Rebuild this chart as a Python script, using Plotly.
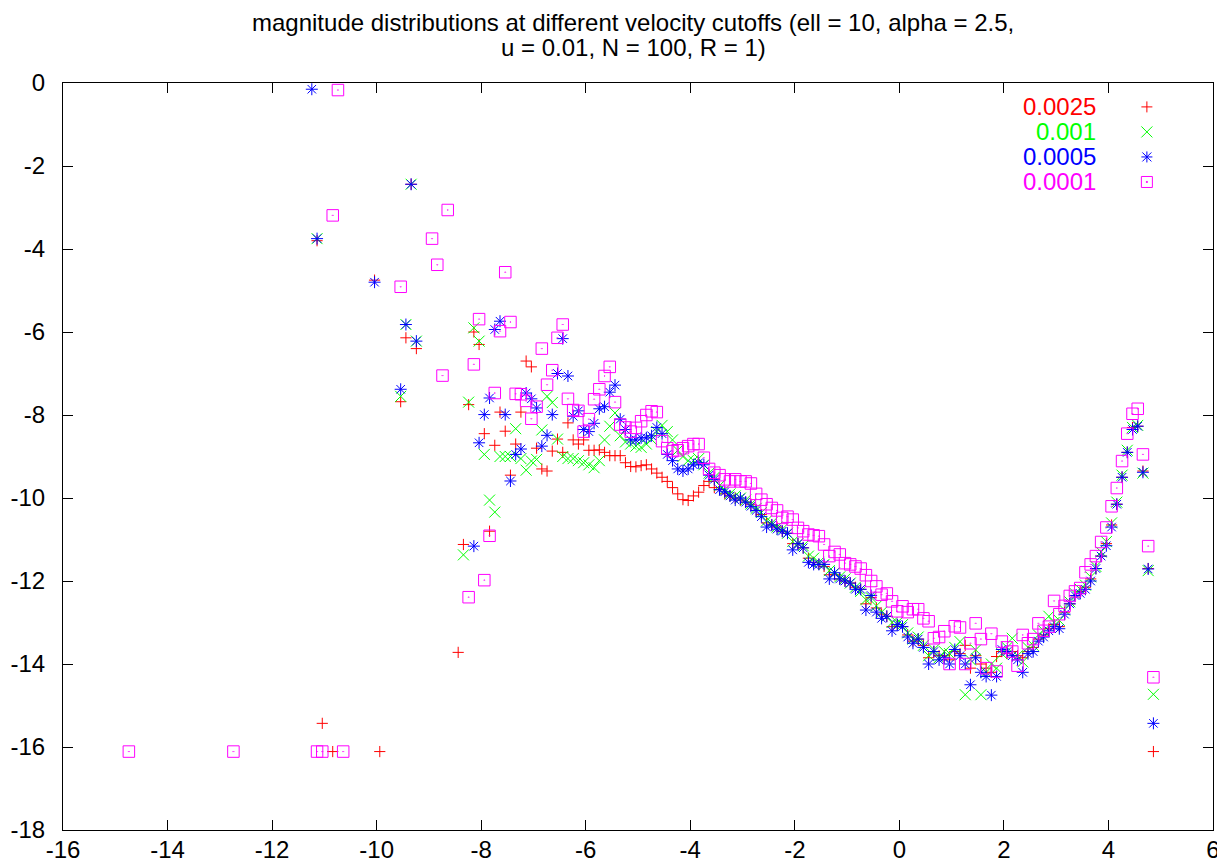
import plotly.graph_objects as go

# velocity cutoffs and their colours (gnuplot default palette)
cutoffs = ["0.0025", "0.001", "0.0005", "0.0001"]
colors = ["#ff0000", "#00ff00", "#0000ff", "#ff00ff"]
symbols = ["cross-thin", "x-thin", "asterisk", "square-open-dot"]

x_ticks = [-16, -14, -12, -10, -8, -6, -4, -2, 0, 2, 4, 6]
y_ticks = [0, -2, -4, -6, -8, -10, -12, -14, -16, -18]

# magnitude bins along the main curve (same for all cutoffs)
x_main = [-6.04, -5.94, -5.84, -5.74, -5.64, -5.54, -5.44, -5.34, -5.24, -5.14,
          -5.04, -4.94, -4.84, -4.74, -4.64, -4.54, -4.44, -4.34, -4.24, -4.14,
          -4.04, -3.94, -3.84, -3.74, -3.64, -3.54, -3.44, -3.34, -3.24, -3.14,
          -3.04, -2.94, -2.84, -2.74, -2.64, -2.54, -2.44, -2.34, -2.24, -2.14,
          -2.04, -1.94, -1.84, -1.74, -1.64, -1.54, -1.44, -1.34, -1.24, -1.14,
          -1.04, -0.94, -0.84, -0.74, -0.64, -0.54, -0.44, -0.34, -0.24, -0.14,
          -0.04, 0.06, 0.16, 0.26, 0.36, 0.46, 0.56, 0.66, 0.76, 0.86,
          0.96, 1.06, 1.16, 1.26, 1.36, 1.46, 1.56, 1.66, 1.76, 1.86,
          1.96, 2.06, 2.16, 2.26, 2.36, 2.46, 2.56, 2.66, 2.76, 2.86,
          2.96, 3.06, 3.16, 3.26, 3.36, 3.46, 3.56, 3.66, 3.76, 3.86,
          3.96, 4.06, 4.16, 4.26, 4.36, 4.46, 4.56, 4.66, 4.76, 4.86]

y_main_0025 = [-8.60, -8.85, -8.85, -8.84, -8.90, -8.98, -8.98, -8.98, -9.15, -9.24,
               -9.25, -9.22, -9.20, -9.30, -9.40, -9.50, -9.60, -9.75, -9.90, -10.04,
               -10.06, -9.95, -9.86, -9.70, -9.60, -9.75, -9.80, -9.90, -9.95, -10.00,
               -10.05, -10.10, -10.15, -10.30, -10.40, -10.60, -10.65, -10.70, -10.80, -10.85,
               -11.10, -11.10, -11.20, -11.45, -11.55, -11.60, -11.65, -11.85, -11.85, -11.95,
               -12.00, -12.05, -12.15, -12.20, -12.55, -12.40, -12.65, -12.80, -12.85, -13.10,
               -13.05, -13.10, -13.30, -13.45, -13.40, -13.55, -13.85, -13.70, -13.80, -13.80,
               -13.90, -13.70, -13.75, -13.55, -14.10, -13.80, -14.00, -14.10, -14.20, -13.82,
               -13.70, -13.75, -13.70, -13.80, -13.85, -13.70, -13.60, -13.40, -13.30, -13.15,
               -13.05, -13.10, -12.75, -12.55, -12.35, -12.25, -12.15, -11.95, -11.70, -11.40,
               -11.10, -10.65, -10.15, -9.50, -8.90, -8.30, -8.27, -9.35, -11.70, -16.11]

y_main_001 = [-9.15, -9.20, -9.27, -9.10, -8.60, -8.27, -7.95, -8.50, -8.65, -8.70,
              -8.75, -8.78, -8.70, -8.59, -8.40, -8.25, -8.40, -8.60, -8.85, -9.00,
              -9.10, -9.10, -9.05, -9.20, -9.40, -9.50, -9.70, -9.80, -9.90, -9.95,
              -10.00, -10.05, -10.15, -10.25, -10.35, -10.55, -10.60, -10.70, -10.75, -10.85,
              -11.05, -11.10, -11.15, -11.40, -11.45, -11.55, -11.60, -11.75, -11.80, -11.90,
              -11.95, -12.05, -12.15, -12.25, -12.45, -12.40, -12.60, -12.75, -12.85, -13.00,
              -13.00, -13.05, -13.25, -13.40, -13.35, -13.55, -13.80, -13.65, -13.85, -13.70,
              -13.75, -13.60, -13.46, -14.74, -13.90, -13.66, -14.74, -14.20, -14.00, -14.10,
              -13.75, -13.60, -13.38, -13.80, -13.95, -13.60, -13.55, -13.30, -13.20, -12.85,
              -13.00, -12.95, -12.70, -12.50, -12.30, -12.20, -12.10, -11.90, -11.65, -11.30,
              -11.05, -10.60, -10.10, -9.45, -8.85, -8.30, -8.25, -9.40, -11.75, -14.73]

y_main_0005 = [-8.35, -8.40, -8.20, -7.85, -7.80, -7.45, -7.28, -8.10, -8.35, -8.60,
               -8.60, -8.55, -8.55, -8.50, -8.30, -8.45, -8.95, -9.10, -9.30, -9.35,
               -9.30, -9.20, -9.15, -9.20, -9.45, -9.55, -9.80, -9.85, -9.95, -10.05,
               -10.00, -10.10, -10.20, -10.30, -10.45, -10.70, -10.65, -10.75, -10.80, -10.85,
               -11.25, -11.10, -11.20, -11.55, -11.60, -11.60, -11.60, -11.95, -11.80, -11.95,
               -12.00, -12.05, -12.20, -12.20, -12.70, -12.35, -12.75, -12.90, -12.85, -13.20,
               -13.05, -13.10, -13.35, -13.50, -13.40, -13.60, -14.00, -13.70, -13.90, -13.85,
               -14.00, -13.65, -13.80, -14.00, -14.50, -13.85, -14.20, -14.30, -14.75, -14.30,
               -13.65, -13.70, -13.80, -13.90, -14.20, -13.75, -13.70, -13.45, -13.35, -13.20,
               -13.10, -13.15, -12.80, -12.55, -12.35, -12.30, -12.20, -12.00, -11.70, -11.40,
               -11.15, -10.70, -10.15, -9.50, -8.90, -8.35, -8.27, -9.38, -11.71, -15.43]

y_main_0001 = [-8.40, -8.10, -7.62, -7.38, -7.06, -6.84, -7.69, -8.23, -8.30, -8.40,
               -8.31, -8.15, -8.00, -7.91, -7.93, -8.63, -8.80, -8.87, -8.85, -8.80,
               -8.75, -8.70, -8.70, -9.03, -9.30, -9.39, -9.45, -9.55, -9.60, -9.55,
               -9.60, -9.60, -9.65, -9.90, -10.04, -10.15, -10.24, -10.30, -10.48, -10.45,
               -10.52, -10.72, -10.80, -10.88, -10.90, -10.92, -11.12, -11.40, -11.30, -11.36,
               -11.57, -11.60, -11.65, -11.70, -11.86, -12.00, -12.13, -12.33, -12.30, -12.49,
               -12.73, -12.61, -12.75, -12.68, -12.68, -12.90, -12.97, -13.38, -13.35, -13.21,
               -14.00, -13.09, -13.12, -14.00, -13.50, -13.02, -13.40, -14.10, -13.27, -14.18,
               -13.46, -13.60, -13.70, -14.04, -13.30, -13.50, -13.40, -13.02, -13.20, -13.10,
               -12.48, -12.80, -12.60, -12.36, -12.25, -12.17, -11.79, -11.60, -11.40, -11.06,
               -10.71, -10.20, -9.76, -9.11, -8.45, -7.97, -7.85, -8.95, -11.16, -14.32]

# scattered points at the bright end (left of the main curve)
x_left_0025 = [-11.14, -11.04, -10.84, -10.04, -9.94, -9.54, -9.44, -9.34, -9.24, -8.44,
               -8.34, -8.24, -8.14, -8.04, -7.94, -7.84, -7.74, -7.64, -7.54, -7.44,
               -7.34, -7.24, -7.14, -7.04, -6.94, -6.84, -6.74, -6.64, -6.54, -6.44,
               -6.34, -6.24, -6.14]
y_left_0025 = [-3.80, -15.43, -16.11, -4.75, -16.11, -7.68, -6.14, -2.44, -6.40, -13.72,
               -11.12, -7.75, -6.00, -6.30, -8.45, -10.80, -8.73, -7.93, -8.39, -9.45,
               -8.70, -7.93, -6.70, -6.84, -8.80, -9.30, -9.35, -8.87, -8.58, -8.90,
               -8.19, -8.60, -8.70]

x_left_001 = [-11.14, -9.54, -9.44, -9.34, -9.24, -8.34, -8.24, -8.14, -8.04, -7.94,
              -7.84, -7.74, -7.64, -7.54, -7.44, -7.34, -7.24, -7.14, -7.04, -6.94,
              -6.84, -6.74, -6.64, -6.54, -6.44, -6.34, -6.24, -6.14]
y_left_001 = [-3.75, -7.55, -5.82, -2.44, -6.22, -11.37, -7.69, -5.90, -6.22, -8.95,
              -10.05, -10.34, -9.00, -9.00, -9.00, -8.33, -9.05, -9.33, -9.11, -9.07,
              -8.36, -7.55, -7.70, -8.58, -9.00, -9.05, -9.05, -9.10]

x_left_0005 = [-11.24, -11.14, -10.04, -9.54, -9.44, -9.34, -9.24, -8.14, -8.04, -7.94,
               -7.84, -7.74, -7.64, -7.54, -7.44, -7.34, -7.24, -7.14, -7.04, -6.94,
               -6.84, -6.74, -6.64, -6.54, -6.44, -6.34, -6.24, -6.14]
y_left_0005 = [-0.15, -3.75, -4.80, -7.38, -5.82, -2.44, -6.22, -11.16, -8.67, -7.99,
               -7.59, -5.94, -5.74, -7.99, -9.59, -8.95, -8.82, -7.47, -7.61, -7.83,
               -8.75, -8.49, -7.99, -7.00, -6.16, -7.06, -8.03, -7.90]

x_left_0001 = [-14.74, -12.74, -11.14, -11.04, -10.84, -10.74, -10.64, -9.54, -8.94, -8.84,
               -8.74, -8.64, -8.24, -8.14, -8.04, -7.94, -7.84, -7.74, -7.64, -7.54,
               -7.44, -7.34, -7.24, -7.14, -7.04, -6.94, -6.84, -6.74, -6.64, -6.54,
               -6.44, -6.34, -6.24, -6.14]
y_left_0001 = [-16.11, -16.11, -16.11, -16.11, -3.19, -0.17, -16.11, -4.91, -3.75, -4.38,
               -7.05, -3.06, -12.39, -6.78, -5.69, -11.98, -10.91, -7.47, -5.98, -4.56,
               -5.76, -7.49, -7.50, -7.66, -8.09, -7.80, -6.40, -7.27, -6.92, -6.14,
               -5.82, -7.61, -7.88, -7.90]

series_x = [x_left_0025 + x_main, x_left_001 + x_main, x_left_0005 + x_main, x_left_0001 + x_main]
series_y = [y_left_0025 + y_main_0025, y_left_001 + y_main_001,
            y_left_0005 + y_main_0005, y_left_0001 + y_main_0001]
marker_sizes = [8, 11, 10, 11.5]

FONT = "Liberation Sans, Arial, Helvetica, sans-serif"

fig = go.Figure()
for name, xs, ys, col, sym, size in zip(cutoffs, series_x, series_y, colors, symbols, marker_sizes):
    fig.add_trace(go.Scatter(
        x=xs, y=ys, mode="markers", name=name, showlegend=False,
        marker=dict(symbol=sym, size=size, color=col, line=dict(color=col, width=1)),
    ))


# gnuplot-like key: text on the left, point symbol on the right
def key_shapes(kind, xa, ya, color):
    base = dict(xref="paper", yref="paper", xsizemode="pixel", ysizemode="pixel",
                xanchor=xa, yanchor=ya, line=dict(color=color, width=1))
    arms = []
    if kind in ("cross-thin", "asterisk"):
        arms += [(-5.5, 0, 5.5, 0), (0, -5.5, 0, 5.5)]
    if kind == "x-thin":
        arms += [(-5.5, -5.5, 5.5, 5.5), (-5.5, 5.5, 5.5, -5.5)]
    if kind == "asterisk":
        arms += [(-4.5, -4.5, 4.5, 4.5), (-4.5, 4.5, 4.5, -4.5)]
    out = [dict(type="line", x0=a, y0=b, x1=c, y1=d, **base) for a, b, c, d in arms]
    if kind == "square-open-dot":
        out.append(dict(type="rect", x0=-5.5, y0=-5.5, x1=5.5, y1=5.5, **base))
        out.append(dict(type="rect", x0=-0.5, y0=-0.5, x1=0.5, y1=0.5, fillcolor=color, **base))
    return out


shapes = []
annotations = []
key_top = 0.968
key_step = 0.0335
for i, (name, col, sym) in enumerate(zip(cutoffs, colors, symbols)):
    yk = key_top - i * key_step
    annotations.append(dict(text=name, x=0.90, y=yk, xref="paper", yref="paper",
                            xanchor="right", yanchor="middle", showarrow=False,
                            font=dict(family=FONT, size=24, color=col)))
    shapes += key_shapes(sym, 0.9425, yk, col)

# two-line title, gnuplot puts the lines close together
annotations.append(dict(text="magnitude distributions at different velocity cutoffs (ell = 10, alpha = 2.5,",
                        x=0.496, y=1.081, xref="paper", yref="paper", xanchor="center",
                        yanchor="middle", showarrow=False, font=dict(family=FONT, size=24, color="black")))
annotations.append(dict(text="u = 0.01, N = 100, R = 1)",
                        x=0.496, y=1.047, xref="paper", yref="paper", xanchor="center",
                        yanchor="middle", showarrow=False, font=dict(family=FONT, size=24, color="black")))

axis_style = dict(showgrid=False, zeroline=False, showline=True, linecolor="black", linewidth=1,
                  ticks="inside", ticklen=10, tickwidth=1, tickcolor="black", mirror="ticks",
                  automargin=False, tickfont=dict(family=FONT, size=24, color="black"))

# the page body has an 8px margin, so the figure is 8px smaller than the window
fig.update_layout(
    width=1217, height=858,
    margin=dict(l=55, r=12, t=75, b=36),
    plot_bgcolor="white", paper_bgcolor="white",
    showlegend=False,
    annotations=annotations,
    shapes=shapes,
    xaxis=dict(range=[-16, 6], tickvals=x_ticks, ticktext=[str(v) for v in x_ticks],
               ticklabelstandoff=-2, **axis_style),
    yaxis=dict(range=[-18, 0], tickvals=y_ticks, ticktext=[str(v) for v in y_ticks],
               ticklabelstandoff=12, **axis_style),
)

fig.write_html("out.html")
